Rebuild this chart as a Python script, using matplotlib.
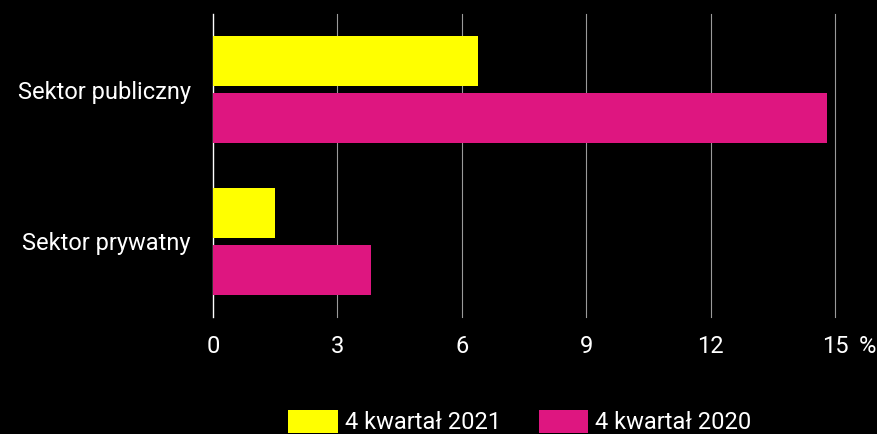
import matplotlib.pyplot as plt
import numpy as np

plt.rcParams['font.family'] = ['Roboto', 'DejaVu Sans']

# data
sectors = ['Sektor publiczny', 'Sektor prywatny']
q4_2021 = [6.4, 1.5]
q4_2020 = [14.8, 3.8]
xticks = [0, 3, 6, 9, 12, 15]
series_labels = ['4 kwartał 2021', '4 kwartał 2020']

yellow = '#FFFF00'
magenta = '#DE1680'
fs = 17

fig = plt.figure(figsize=(8.78, 4.34), dpi=100, facecolor='black')
ax = fig.add_axes([213 / 878, 117 / 434, 622 / 878, 303 / 434], facecolor='black')

y = np.arange(len(sectors))
h = 0.33
off = 0.1875
ax.barh(y - off, q4_2021, height=h, color=yellow, label=series_labels[0], zorder=3)
ax.barh(y + off, q4_2020, height=h, color=magenta, label=series_labels[1], zorder=3)

ax.set_xlim(0, 15)
ax.set_ylim(1.5, -0.5)

for v in xticks:
    ax.axvline(v, color='white' if v == 0 else '#9a9a9a', lw=1 if v == 0 else 0.8,
               zorder=1, clip_on=False)

ax.set_xticks(xticks)
ax.set_xticklabels([str(v) for v in xticks])
ax.set_yticks(y)
ax.set_yticklabels(sectors)
ax.tick_params(axis='both', length=0, colors='white', labelsize=fs)
ax.tick_params(axis='x', pad=13)
ax.tick_params(axis='y', pad=16)
for s in ax.spines.values():
    s.set_visible(False)

ax.annotate('%', xy=(15, 0), xycoords=('data', 'axes fraction'), xytext=(17, -13),
            textcoords='offset points', color='white', fontsize=fs, va='top', ha='left')

leg = fig.legend(loc='lower center', bbox_to_anchor=(520 / 878, -0.05), ncol=2, frameon=False,
                 fontsize=fs, handlelength=2.1, handleheight=1.15,
                 handletextpad=0.3, columnspacing=1.6)
for t in leg.get_texts():
    t.set_color('white')

fig.savefig('out.png', dpi=100, facecolor='black')
